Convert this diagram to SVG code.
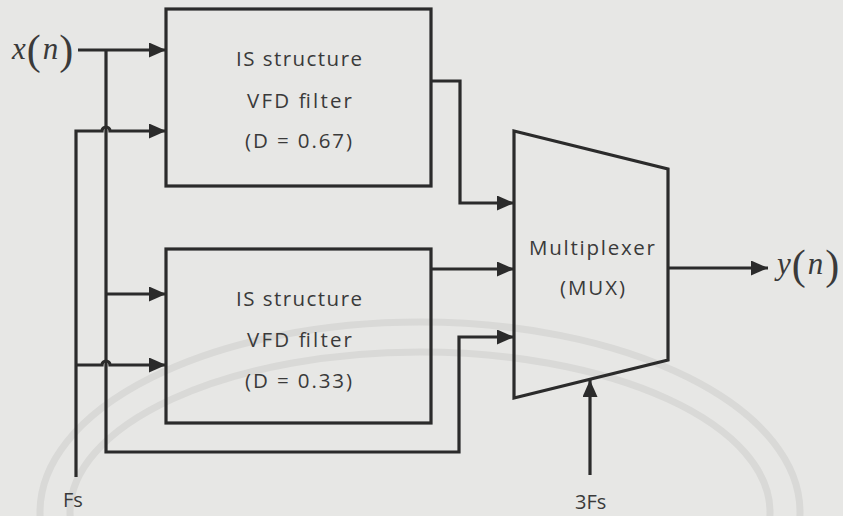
<svg xmlns="http://www.w3.org/2000/svg" width="843" height="516" viewBox="0 0 843 516">
<style>
.bg{fill:#e7e7e5}
.wm{fill:none;stroke:#d9d9d7;stroke-width:7}
.ln{fill:none;stroke:#2b2b2b;stroke-width:3.2;stroke-linejoin:miter}
.arr{marker-end:url(#ah)}
.box{fill:none;stroke:#2b2b2b;stroke-width:3.2}
.t{font-family:"Open Sans","Noto Sans",sans-serif;font-size:20.5px;fill:#3a3a3a;text-anchor:start}
.lbl{font-family:"Open Sans","Noto Sans",sans-serif;font-size:20px;fill:#3a3a3a}
.m{font-family:"Liberation Serif","Times New Roman",serif;font-size:31px;fill:#3a3a3a}
</style>
<defs>
<marker id="ah" markerUnits="userSpaceOnUse" markerWidth="18" markerHeight="15" refX="17" refY="7.5" orient="auto">
<path d="M0,0 L17,7.5 L0,15 z" fill="#2b2b2b"/>
</marker>
</defs>
<rect class="bg" x="0" y="0" width="843" height="516"/>
<g id="watermark">
<ellipse class="wm" cx="420" cy="512" rx="380" ry="190"/>
<ellipse class="wm" cx="420" cy="512" rx="350" ry="160"/>
</g>
<g id="connectors">
<path class="ln arr" d="M78,50 H166"/>
<path class="ln arr" d="M106,50 V452 H459 V337 H514"/>
<path class="ln arr" d="M106,294 H166"/>
<path class="ln arr" d="M76,477 V131 H102 A4,4 0 0 1 110,131 H166"/>
<path class="ln arr" d="M76,365 H102 A4,4 0 0 1 110,365 H166"/>
<path class="ln arr" d="M431,81 H460 V203 H514"/>
<path class="ln arr" d="M431,269 H514"/>
<path class="ln arr" d="M668,268 H768"/>
<path class="ln arr" d="M590,475 V380"/>
</g>
<g id="vfd1">
<rect class="box" x="166" y="9" width="265" height="177"/>
<text class="t" x="236" y="66" textLength="126" lengthAdjust="spacing">IS structure</text>
<text class="t" x="247" y="108" textLength="105" lengthAdjust="spacing">VFD filter</text>
<text class="t" x="245" y="148" textLength="107" lengthAdjust="spacing">(D = 0.67)</text>
</g>
<g id="vfd2">
<rect class="box" x="166" y="249" width="265" height="174"/>
<text class="t" x="236" y="306" textLength="126" lengthAdjust="spacing">IS structure</text>
<text class="t" x="247" y="347" textLength="105" lengthAdjust="spacing">VFD filter</text>
<text class="t" x="245" y="388" textLength="107" lengthAdjust="spacing">(D = 0.33)</text>
</g>
<g id="mux">
<polygon class="box" points="514,131 668,169 668,360 514,398"/>
<text class="t" x="529" y="255" textLength="126" lengthAdjust="spacing">Multiplexer</text>
<text class="t" x="560" y="295" textLength="65" lengthAdjust="spacing">(MUX)</text>
</g>
<g id="input">
<text class="m" x="12" y="59"><tspan font-style="italic">x</tspan><tspan font-size="42" dy="5" dx="1">(</tspan><tspan font-style="italic" dy="-5" dx="2">n</tspan><tspan font-size="42" dy="5" dx="1">)</tspan></text>
</g>
<g id="output">
<text class="m" x="777" y="274"><tspan font-style="italic">y</tspan><tspan font-size="42" dy="5" dx="1">(</tspan><tspan font-style="italic" dy="-5" dx="2">n</tspan><tspan font-size="42" dy="5" dx="2">)</tspan></text>
</g>
<g id="fs">
<text class="lbl" x="63" y="507">Fs</text>
</g>
<g id="fs3">
<text class="lbl" x="575" y="509">3Fs</text>
</g>
</svg>
